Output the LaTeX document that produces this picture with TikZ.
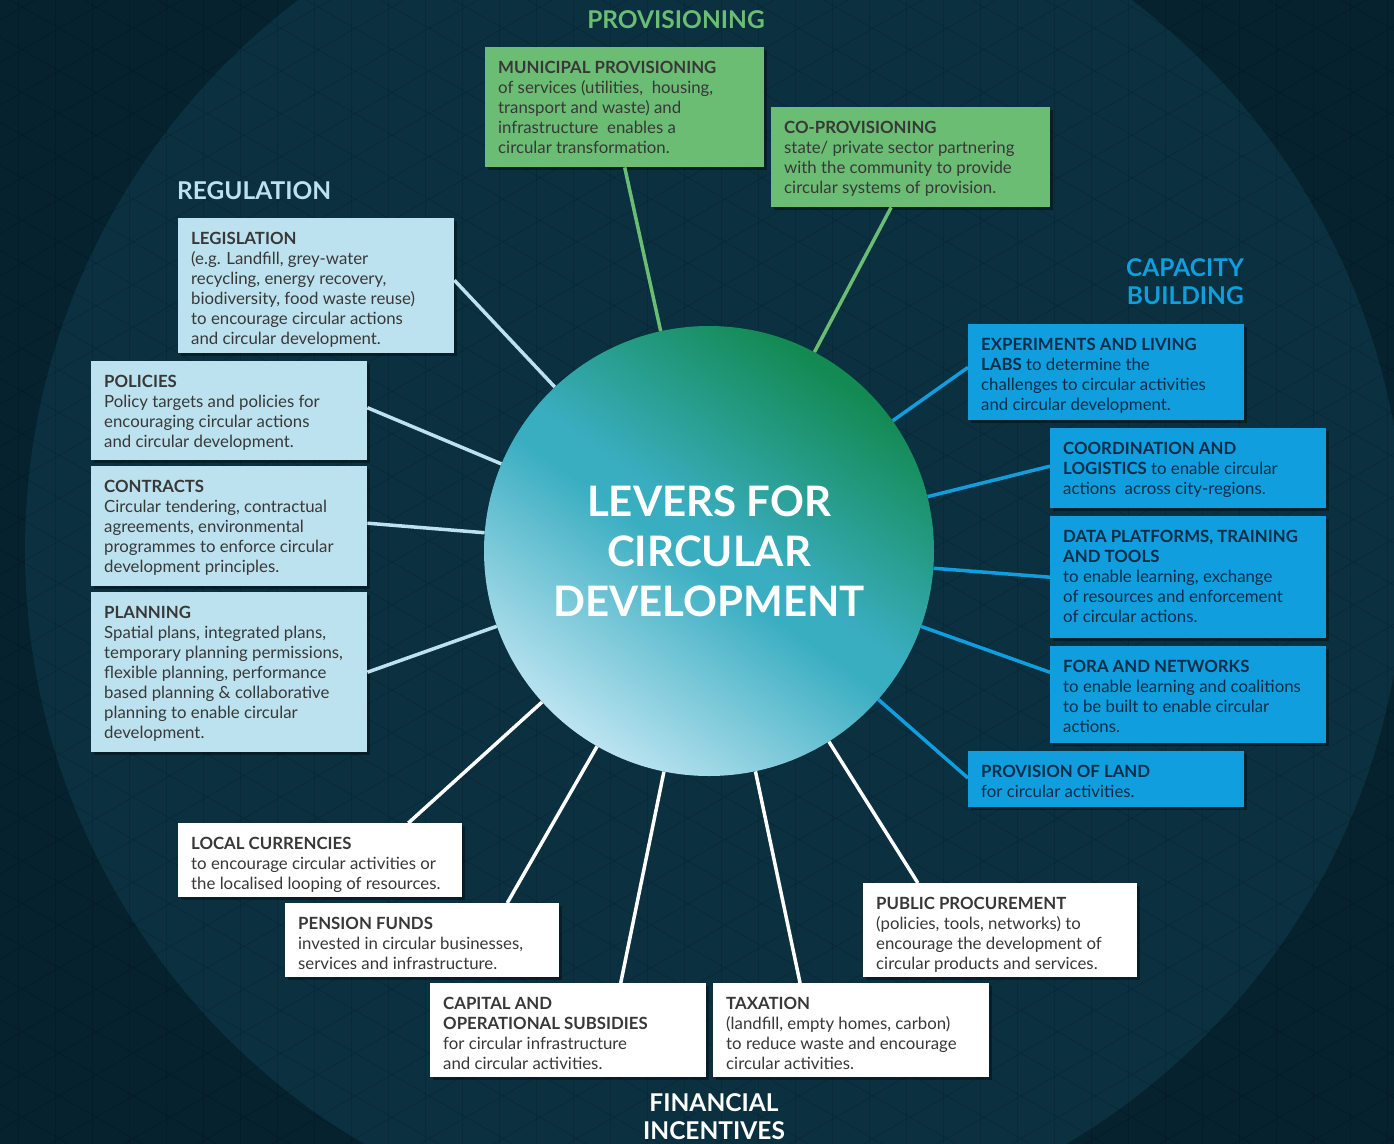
\documentclass[tikz,border=0pt]{standalone}
\usepackage{fontspec}
\setmainfont{Lato}
\usetikzlibrary{calc,shadows}
\definecolor{bgdark}{HTML}{05222E}
\definecolor{bgcirc}{HTML}{0B3040}
\definecolor{cgreen}{HTML}{6BBD74}
\definecolor{clblue}{HTML}{BDE2EF}
\definecolor{cblue}{HTML}{109EDF}
\definecolor{ctgreen}{HTML}{138A52}
\definecolor{ctteal}{HTML}{3AAEC1}
\definecolor{ctlight}{HTML}{C2E6F3}
\definecolor{navytext}{HTML}{0B2E48}
\colorlet{bodycol}{black!78}
\pgfdeclareverticalshading{levershade}{100bp}{color(0bp)=(ctlight); color(24bp)=(ctlight); color(48bp)=(ctteal); color(52bp)=(ctteal); color(74bp)=(ctgreen); color(100bp)=(ctgreen)}
\newcommand{\leverbox}[7]{%
  \node[lbox, fill=#6, minimum width=#4pt, minimum height=#5pt] (#1) at (#2,#3) {};
  \node[ltext] (#1-t) at ($(#1.north west)+(13,14)$) {#7};}
\begin{document}
\begin{tikzpicture}[x=1pt,y=-1pt,
  lbox/.style={rectangle, anchor=north west, inner sep=0pt, draw=none,
    drop shadow={shadow xshift=3pt, shadow yshift=-3pt, opacity=0.35, fill=black}},
  ltext/.style={anchor=north west, inner sep=0pt, align=left, text=bodycol,
    font=\fontsize{16.8}{20}\selectfont},
  title/.style={font=\bfseries\fontsize{24.5}{28}\selectfont, inner sep=0pt, align=center},
  conn/.style={line width=3.5pt},
  gridline/.style={black, opacity=0.12, line width=0.8pt}]
\useasboundingbox (0,0) rectangle (1394,1143);
\begin{scope}
\clip (-2,-2) rectangle (1396,1145);
\fill[bgdark] (-5,-5) rectangle (1399,1148);
\fill[bgcirc] (715,550) circle[radius=690pt];
% faint triangular grid
\foreach \gx in {18,55,...,1400} {\draw[gridline] (\gx,-5) -- (\gx,1150);}
\foreach \gk in {-820,-777.3,...,1160} {\draw[gridline] (-5,\gk) -- (1400,\gk+811);}
\foreach \gk in {-20,22.7,...,1960} {\draw[gridline] (-5,\gk) -- (1400,\gk-811);}
\end{scope}

% centre
\node[circle, minimum size=450pt, inner sep=0pt, shade, shading=levershade, shading angle=-35, text=white, align=center,
  font=\bfseries\fontsize{42}{50}\selectfont] (c) at (709,551)
  {LEVERS FOR\\CIRCULAR\\DEVELOPMENT};

% titles
\node[title, text=cgreen] (tprov) at (676,20) {PROVISIONING};
\node[title, text=clblue, anchor=west] (treg) at (177,191) {REGULATION};
\node[title, text=cblue, anchor=north east, align=right] (tcap) at (1244,258) {CAPACITY\\BUILDING};
\node[title, text=white, anchor=north] (tfin) at (714,1093) {FINANCIAL\\INCENTIVES};

% provisioning
\leverbox{muni}{485}{47}{279}{120}{cgreen}{\textbf{MUNICIPAL PROVISIONING}\\of services (utilities,\ \ housing,\\transport and waste) and\\infrastructure\ \ enables a\\circular transformation.}
\leverbox{coprov}{771}{107}{279}{100}{cgreen}{\textbf{CO-PROVISIONING}\\state/ private sector partnering\\with the community to provide\\circular systems of provision.}

% regulation
\leverbox{legis}{178}{218}{276}{135}{clblue}{\textbf{LEGISLATION}\\(e.g. Landfill, grey-water\\recycling, energy recovery,\\biodiversity, food waste reuse)\\to encourage circular actions\\and circular development.}
\leverbox{polic}{91}{361}{276}{99}{clblue}{\textbf{POLICIES}\\Policy targets and policies for\\encouraging circular actions\\and circular development.}
\leverbox{contr}{91}{466}{276}{120}{clblue}{\textbf{CONTRACTS}\\Circular tendering, contractual\\agreements, environmental\\programmes to enforce circular\\development principles.}
\leverbox{plan}{91}{592}{276}{160}{clblue}{\textbf{PLANNING}\\Spatial plans, integrated plans,\\temporary planning permissions,\\flexible planning, performance\\based planning \& collaborative\\planning to enable circular\\development.}

% capacity building
\colorlet{bodycol}{navytext}
\leverbox{exper}{968}{324}{276}{96}{cblue}{\textbf{EXPERIMENTS AND LIVING}\\\textbf{LABS} to determine the\\challenges to circular activities\\and circular development.}
\leverbox{coord}{1050}{428}{276}{80}{cblue}{\textbf{COORDINATION AND}\\\textbf{LOGISTICS} to enable circular\\actions\ \ across city-regions.}
\leverbox{data}{1050}{516}{276}{122}{cblue}{\textbf{DATA PLATFORMS, TRAINING}\\\textbf{AND TOOLS}\\to enable learning, exchange\\of resources and enforcement\\of circular actions.}
\leverbox{fora}{1050}{646}{276}{97}{cblue}{\textbf{FORA AND NETWORKS}\\to enable learning and coalitions\\to be built to enable circular\\actions.}
\leverbox{land}{968}{751}{276}{56}{cblue}{\textbf{PROVISION OF LAND}\\for circular activities.}

% financial
\colorlet{bodycol}{black!78}
\leverbox{local}{178}{823}{284}{74}{white}{\textbf{LOCAL CURRENCIES}\\to encourage circular activities or\\the localised looping of resources.}
\leverbox{pens}{285}{903}{274}{74}{white}{\textbf{PENSION FUNDS}\\invested in circular businesses,\\services and infrastructure.}
\leverbox{capit}{430}{983}{276}{94}{white}{\textbf{CAPITAL AND}\\\textbf{OPERATIONAL SUBSIDIES}\\for circular infrastructure\\and circular activities.}
\leverbox{tax}{713}{983}{276}{94}{white}{\textbf{TAXATION}\\(landfill, empty homes, carbon)\\to reduce waste and encourage\\circular activities.}
\leverbox{procu}{863}{883}{274}{94}{white}{\textbf{PUBLIC PROCUREMENT}\\(policies, tools, networks) to\\encourage the development of\\circular products and services.}

% connectors
\draw[conn, cgreen] (c) -- ($(muni.south west)!0.5!(muni.south east)$);
\draw[conn, cgreen] (c) -- ($(coprov.south west)!0.43!(coprov.south east)$);
\draw[conn, clblue] (c) -- ($(legis.north east)!0.46!(legis.south east)$);
\draw[conn, clblue] (c) -- ($(polic.north east)!0.47!(polic.south east)$);
\draw[conn, clblue] (c) -- ($(contr.north east)!0.475!(contr.south east)$);
\draw[conn, clblue] (c) -- ($(plan.north east)!0.5!(plan.south east)$);
\draw[conn, cblue] (c) -- ($(exper.north west)!0.45!(exper.south west)$);
\draw[conn, cblue] (c) -- ($(coord.north west)!0.475!(coord.south west)$);
\draw[conn, cblue] (c) -- ($(data.north west)!0.5!(data.south west)$);
\draw[conn, cblue] (c) -- ($(fora.north west)!0.27!(fora.south west)$);
\draw[conn, cblue] (c) -- ($(land.north west)!0.48!(land.south west)$);
\draw[conn, white] (c) -- ($(local.north west)!0.81!(local.north east)$);
\draw[conn, white] (c) -- ($(pens.north west)!0.81!(pens.north east)$);
\draw[conn, white] (c) -- ($(capit.north west)!0.69!(capit.north east)$);
\draw[conn, white] (c) -- ($(tax.north west)!0.315!(tax.north east)$);
\draw[conn, white] (c) -- ($(procu.north west)!0.2!(procu.north east)$);
\end{tikzpicture}
\end{document}
